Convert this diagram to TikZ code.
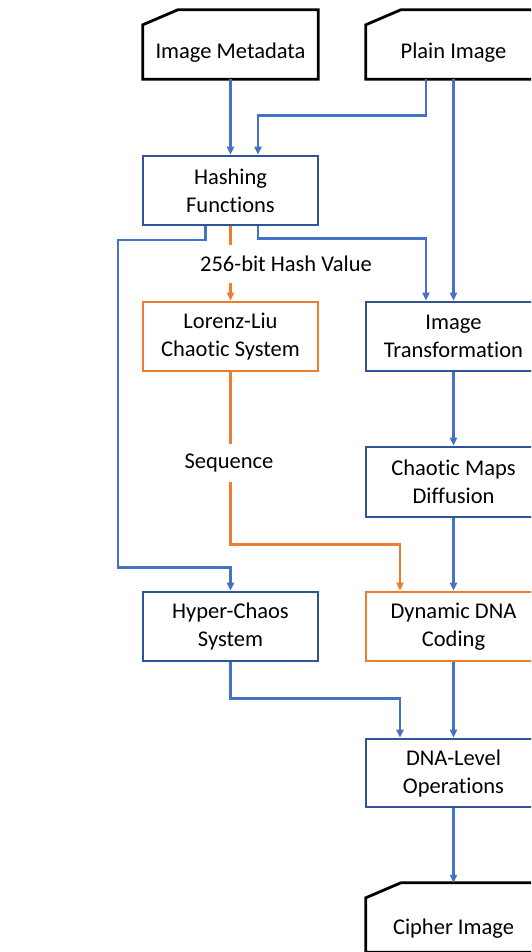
\documentclass[tikz,border=0pt]{standalone}
\usepackage{fontspec}
\setmainfont{Carlito}[RawFeature={-liga;-clig;-calt;-dlig}]
\usetikzlibrary{arrows.meta,calc}
\definecolor{boxblue}{HTML}{2F5597}
\definecolor{lineblue}{HTML}{4472C4}
\definecolor{orng}{HTML}{ED7D31}
\newcommand{\myti}{t\kern0pt i}
\begin{document}
\begin{tikzpicture}[x=1pt,y=-1pt,
  font=\fontsize{22.5}{28}\selectfont,
  proc/.style={draw=boxblue, line width=2.8pt, minimum width=175pt, minimum height=69pt, align=center, inner sep=0pt, fill=white},
  orangebox/.style={proc, draw=orng},
  card/.style={minimum width=175pt, minimum height=69pt, inner sep=0pt},
  cardline/.style={draw=black, line width=2.8pt, line join=miter},
  lbl/.style={inner sep=0pt, minimum height=37pt},
  conn/.style={draw=lineblue, line width=2.3pt, -{Triangle[length=8pt,width=7pt]}},
  oconn/.style={draw=orng, line width=2.3pt, -{Triangle[length=8pt,width=7pt]}},
  oline/.style={draw=orng, line width=2.3pt}]
\useasboundingbox (0,0) rectangle (531,952);
\clip (0,0) rectangle (531,952);

% card nodes
\node[card] (meta) at (230.5,44.5) {};
\node[card] (plain) at (453.5,44.5) {};
\node[card] (cipher) at (453.5,917.5) {};
\foreach \n in {meta,plain,cipher}{
  \draw[cardline] ([yshift=-15pt]\n.north west) -- ([xshift=35pt]\n.north west) -- (\n.north east) -- (\n.south east) -- (\n.south west) -- cycle;
}
\node (metaText) at (230.5,53) {Image Metadata};
\node (plainText) at (453.5,53) {Plain Image};
\node (cipherText) at (453.5,929) {Cipher Image};

% process boxes
\node[proc] (hash) at (230.5,190.5) {Hashing\\Func\myti ons};
\node[orangebox] (lorenz) at (230.5,336.5) {Lorenz-Liu\\Chao\myti c System};
\node[proc] (trans) at (453.5,336.5) {Image\\Transforma\myti on};
\node[proc, minimum height=70pt] (chaos) at (453.5,482) {Chao\myti c Maps\\Diffusion};
\node[proc] (hyper) at (230.5,626.5) {Hyper-Chaos\\System};
\node[orangebox] (dna) at (453.5,626.5) {Dynamic DNA\\Coding};
\node[proc, minimum height=68pt] (level) at (453.5,773) {DNA-Level\\Opera\myti ons};

% labels
\node[lbl] (hv) at (286,264) {256-bit Hash Value};
\node[lbl, minimum height=38pt] (seq) at (229,463) {Sequence};

% connectors
\draw[conn] (meta.south) -- (hash.north);
\draw[conn] ($(plain.south)+(-27.5,0)$) |- ($(hash.north)+(27.5,-39)$) -- ($(hash.north)+(27.5,0)$);
\draw[conn] (plain.south) -- (trans.north);
\draw[conn] ($(hash.south)+(-25,0)$) |- (118,240) |- ($(hyper.north)+(0,-23)$) -- (hyper.north);
\draw[conn] ($(hash.south)+(27.5,0)$) |- ($(trans.north)+(-27.5,-62)$) -- ($(trans.north)+(-27.5,0)$);
\draw[oline] (hash.south) -- (hash.south |- hv.north);
\draw[oconn] (hash.south |- hv.south) -- (lorenz.north);
\draw[oline] (lorenz.south) -- (lorenz.south |- seq.north);
\draw[oconn] (lorenz.south |- seq.south) |- ($(dna.north)+(-53.5,-46)$) -- ($(dna.north)+(-53.5,0)$);
\draw[conn] (trans.south) -- (chaos.north);
\draw[conn] (chaos.south) -- (dna.north);
\draw[conn] (dna.south) -- (level.north);
\draw[conn] (hyper.south) |- ($(level.north)+(-53.5,-39)$) -- ($(level.north)+(-53.5,0)$);
\draw[conn] (level.south) -- (cipher.north);
\end{tikzpicture}
\end{document}
